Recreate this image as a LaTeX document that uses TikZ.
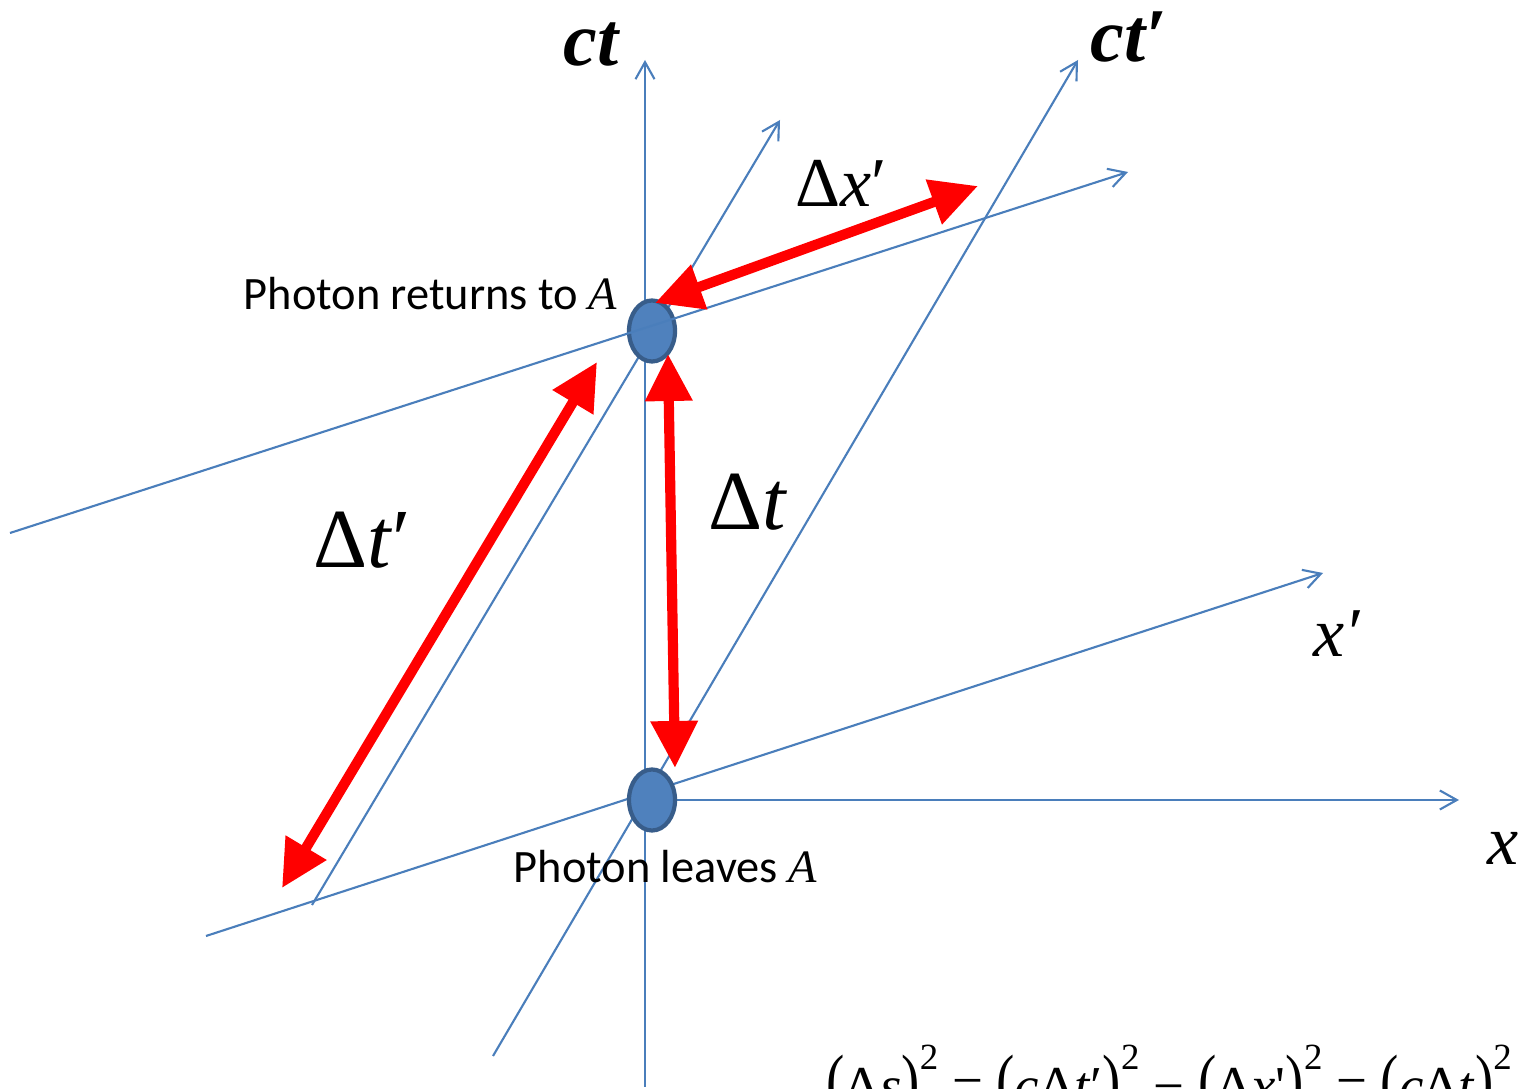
\documentclass[tikz,border=0pt]{standalone}
\usepackage{fontspec}
\setmainfont{Liberation Serif}
\newfontfamily\calibri{Carlito}
\newfontfamily\tms{Liberation Serif}
\usetikzlibrary{arrows.meta,shapes.geometric}

\definecolor{axisblue}{RGB}{74,126,187}
\definecolor{dotfill}{RGB}{79,129,189}
\definecolor{dotedge}{RGB}{56,93,138}
\newcommand{\lblsize}[1]{\fontsize{#1}{#1}\selectfont}
\newcommand{\tallparen}[1]{\scalebox{1}[1.3]{#1}}
\newcommand{\sqd}{\raisebox{0.62em}{\lblsize{10.5}2}}

\begin{document}
\begin{tikzpicture}[x=0.01cm, y=-0.01cm,
    axis/.style={draw=axisblue, line width=0.6pt,
        -{Straight Barb[length=0.17cm, width=0.19cm]}},
    interval/.style={draw=red, line width=2.9pt,
        {Triangle[length=0.47cm, width=0.45cm]}-{Triangle[length=0.47cm, width=0.45cm]}},
    event/.style={ellipse, draw=dotedge, fill=dotfill, line width=1.2pt,
        minimum width=0.46cm, minimum height=0.61cm, inner sep=0pt},
    axlabel/.style={inner sep=0pt, anchor=base west, font=\tms\lblsize{19.9}\itshape},
    timelabel/.style={inner sep=0pt, anchor=base west, font=\tms\lblsize{21.6}\bfseries\itshape},
    deltalabel/.style={inner sep=0pt, anchor=base west, font=\tms\lblsize{23.9}},
    caption/.style={inner sep=0pt, anchor=base west, font=\calibri\lblsize{13.2}}
]
    \useasboundingbox (0,0) rectangle (1527,1089);

    % rest frame and moving frame
    \coordinate (ct_lo) at (645,1087);
    \coordinate (ct_hi) at (645,60);
    \coordinate (x_lo) at (645,800);
    \coordinate (x_hi) at (1459,800);
    \coordinate (ctp_lo) at (493,1056);
    \coordinate (ctp_hi) at (1078,60);
    \coordinate (xp_lo) at (206,936);
    \coordinate (xp_hi) at (1323,573);
    \coordinate (ctq_lo) at (312,905);
    \coordinate (ctq_hi) at (780,120);
    \coordinate (xq_lo) at (10,533);
    \coordinate (xq_hi) at (1128,172);

    \draw[axis] (ct_lo) -- (ct_hi);
    \draw[axis] (x_lo) -- (x_hi);
    \draw[axis] (ctp_lo) -- (ctp_hi);
    \draw[axis] (xp_lo) -- (xp_hi);
    \draw[axis] (ctq_lo) -- (ctq_hi);

    \node[event] (leave) at (652,800) {};
    \node[event] (back) at (652,331) {};
    \draw[axis] (xq_lo) -- (xq_hi);

    % intervals
    \coordinate (dxp_a) at (655,303);
    \coordinate (dxp_b) at (978,186);
    \coordinate (dt_a) at (668,354);
    \coordinate (dt_b) at (675,768);
    \coordinate (dtp_a) at (597,362);
    \coordinate (dtp_b) at (282,888);
    \draw[interval] (dxp_a) -- (dxp_b);
    \draw[interval] (dt_a) -- (dt_b);
    \draw[interval] (dtp_a) -- (dtp_b);

    \node[timelabel] (lbl_ct) at (563,66) {ct};
    \node[timelabel] (lbl_ctp) at (1090,62) {ct′};
    \node[axlabel] (lbl_xp) at (1313,657) {x′};
    \node[axlabel] (lbl_x) at (1487,865) {x};
    \node[deltalabel] (lbl_dt) at (708,530) {Δ\textit{t}};
    \node[deltalabel] (lbl_dtp) at (313,568) {Δ\textit{t}′};
    \node[deltalabel, font=\tms\lblsize{19.9}] (lbl_dxp) at (795,207) {Δ\textit{x}′};

    \node[caption] (cap_back) at (243,310) {Photon returns to {\tms\itshape A}};
    \node[caption] (cap_leave) at (513,883) {Photon leaves {\tms\itshape A}};

    \node[inner sep=0pt, anchor=base west, font=\tms\lblsize{15.6}] (interval_eq) at (826,1104)
        {\tallparen{(}Δ\textit{s}\tallparen{)}\sqd{} = \tallparen{(}\textit{c}Δ\textit{t}′\tallparen{)}\sqd{} − \tallparen{(}Δ\textit{x}\textquotesingle\tallparen{)}\sqd{} = \tallparen{(}\textit{c}Δ\textit{t}\tallparen{)}\sqd};
\end{tikzpicture}
\end{document}
